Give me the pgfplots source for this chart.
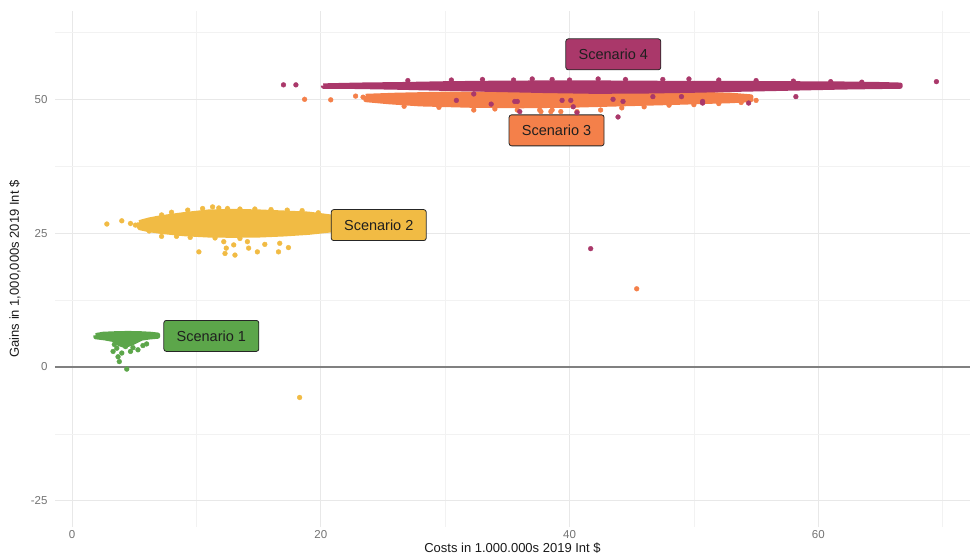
\documentclass[border=0pt]{standalone}
\usepackage{pgfplots}
\pgfplotsset{compat=1.18}
\usepackage{fontspec}
\setmainfont{Liberation Sans}
\definecolor{sc1}{RGB}{92,166,74}
\definecolor{sc2}{RGB}{241,187,68}
\definecolor{sc3}{RGB}{244,128,74}
\definecolor{sc4}{RGB}{170,56,106}
\begin{document}
\begin{tikzpicture}[x=1pt,y=1pt]
\useasboundingbox (-55,-29) rectangle (916,527);
\begin{axis}[at={(0,0)},anchor=south west,scale only axis,
  width=915pt,height=516pt,
  xmin=-1.37,xmax=72.2,ymin=-29.9,ymax=66.5,clip=false,
  axis line style={draw=none},major tick length=0pt,minor tick length=0pt,
  xtick={0,20,40,60},ytick={-25,0,25,50},
  minor xtick={10,30,50,70},minor ytick={-12.5,12.5,37.5,62.5},
  grid=both,
  major grid style={draw=black!9,line width=0.9pt},
  minor grid style={draw=black!5,line width=0.6pt},
  /pgf/number format/assume math mode=true,
  tick label style={font=\fontsize{11.5}{13}\selectfont,text=black!55},
  yticklabel style={xshift=-4pt},
  line join=round]
% zero line
\addplot[black!50,line width=1.3pt] coordinates {(-1.37,0) (72.2,0)};
% Scenario 1
\addplot[fill=sc1,draw=sc1,line width=4.6pt] coordinates {
(1.9,5.9) (2.5,6.15) (3.5,6.25) (4.5,6.3) (5.5,6.25) (6.3,6.15) (6.9,6.0)
(6.9,5.7) (6.2,5.55) (5.6,5.35) (5.2,4.9) (4.7,4.3) (4.2,4.0) (3.8,4.3) (3.3,5.1) (2.6,5.4) (1.9,5.6) (1.9,5.9)};
\addplot[only marks,mark=*,mark size=2.4pt,color=sc1,mark options={draw=none}] coordinates {
(3.7,1.9) (3.8,1.0) (4.4,-0.4) (3.3,2.9) (4.7,2.9) (5.3,3.2) (4.3,3.8) (3.6,3.5) (4.0,2.6) (5.7,4.0) (6.0,4.3) (3.4,4.2) (4.9,3.6)};
% Scenario 2
\addplot[fill=sc2,draw=sc2,line width=4.6pt] coordinates {
(5.4,27.0) (6.2,27.5) (7.1,27.9) (9,28.5) (11,29.0) (13,29.1) (15,29.0) (17,28.8) (19,28.6) (21,28.0)
(21,25.6) (19,25.1) (17,24.8) (15,24.6) (13,24.55) (11,24.6) (9,24.85) (7.1,25.3) (6.2,25.6) (5.4,26.0) (5.4,27.0)};
\addplot[only marks,mark=*,mark size=2.4pt,color=sc2,mark options={draw=none}] coordinates {
(10.5,29.6) (11.3,29.9) (11.8,29.7) (9.3,29.3) (13.5,29.5) (14.7,29.5) (16,29.4) (17.3,29.3) (18.5,29.2) (8,28.9) (12.5,29.6) (7.2,28.4) (19.8,28.8)
(10.2,21.5) (12.2,23.4) (12.4,22.2) (13.0,22.8) (12.3,21.2) (13.1,20.9) (14.1,23.4) (14.2,22.2) (14.9,21.5) (15.5,22.9) (16.7,23.1) (16.6,21.5) (17.4,22.3)
(6.2,25.4) (7.2,24.4) (5.8,25.9) (8.4,24.4) (9.5,24.2) (11.5,24.1) (13.5,24.0)
(2.8,26.7) (4.0,27.3) (4.7,26.8) (5.1,26.5) (18.3,-5.7)};
% Scenario 3
\addplot[fill=sc3,draw=sc3,line width=4.6pt] coordinates {
(23.6,50.6) (26,50.8) (30,51.0) (40,51.1) (50,51.0) (53,50.8) (54.6,50.5)
(54.6,49.9) (53,49.7) (51.5,49.6) (48,49.35) (44,49.1) (40,48.85) (36,48.75) (32,48.85) (28,49.1) (25.5,49.5) (23.6,49.9) (23.6,50.6)};
\addplot[only marks,mark=*,mark size=2.4pt,color=sc3,mark options={draw=none}] coordinates {
(18.7,50.0) (20.8,49.9) (22.8,50.6) (23.4,50.4) (26.7,48.7) (29.5,48.5) (32.3,48.0) (34,48.2) (35.8,48.0) (37.6,48.0) (37.7,47.7) (38.6,48.0) (38.5,47.7) (39.3,47.7) (40.6,47.7) (42.5,48.0) (44.2,48.4) (46,48.6) (48,48.9) (50,49.0) (52,49.2) (53.8,49.4) (55.0,49.8) (45.4,14.6)};
% Scenario 4
\addplot[fill=sc4,draw=sc4,line width=4.6pt] coordinates {
(20.2,52.55) (23,52.7) (26.5,52.8) (30,52.95) (34,53.05) (38,53.1) (42,53.1) (46,53.05) (50,53.0) (54,53.0) (58,52.95) (62,52.9) (65,52.8) (66.6,52.7)
(66.6,52.4) (65,52.35) (62,52.25) (58,52.05) (54,51.85) (50,51.65) (46,51.5) (42,51.45) (38,51.6) (34,51.8) (30,52.0) (26.5,52.2) (23,52.35) (20.2,52.4) (20.2,52.55)};
\addplot[only marks,mark=*,mark size=2.4pt,color=sc4,mark options={draw=none}] coordinates {
(17.0,52.7) (18.0,52.7) (69.5,53.3) (41.7,22.1)
(30.9,49.8) (32.3,51.0) (33.7,49.1) (35.8,49.6) (36.0,47.7) (39.4,49.8) (40.1,49.8) (40.6,47.5) (43.5,50.0) (43.9,46.7) (44.3,49.6) (50.7,49.6) (54.4,49.3) (58.2,50.5) (35.6,49.6) (40.3,48.6) (46.7,50.5) (49.0,50.5) (50.7,49.3)
(27,53.5) (30.5,53.6) (33,53.7) (35.5,53.6) (37,53.8) (38.6,53.7) (40,53.6) (42.3,53.8) (44.5,53.7) (47.5,53.7) (49.6,53.8) (52,53.6) (55,53.5) (58,53.4) (61,53.3) (63.5,53.2)};
% labels
\tikzset{lab/.style={draw=black!85,line width=0.8pt,rounded corners=2.5pt,minimum width=95pt,minimum height=31pt,inner sep=0pt,font=\fontsize{14.5}{16}\selectfont,text=black!88}}
\node[lab,fill=sc1] at (axis cs:11.2,5.8) {Scenario 1};
\node[lab,fill=sc2] at (axis cs:24.66,26.5) {Scenario 2};
\node[lab,fill=sc3] at (axis cs:38.96,44.2) {Scenario 3};
\node[lab,fill=sc4] at (axis cs:43.52,58.4) {Scenario 4};
% titles
\node[yshift=-25.5pt,anchor=base,font=\fontsize{13}{15}\selectfont,text=black!90] at (rel axis cs:0.5,0) {Costs in 1.000.000s 2019 Int \$};
\node[xshift=-36pt,rotate=90,anchor=base,font=\fontsize{13}{15}\selectfont,text=black!90] at (rel axis cs:0,0.5) {Gains in 1,000,000s 2019 Int \$};
\end{axis}
\end{tikzpicture}
\end{document}
